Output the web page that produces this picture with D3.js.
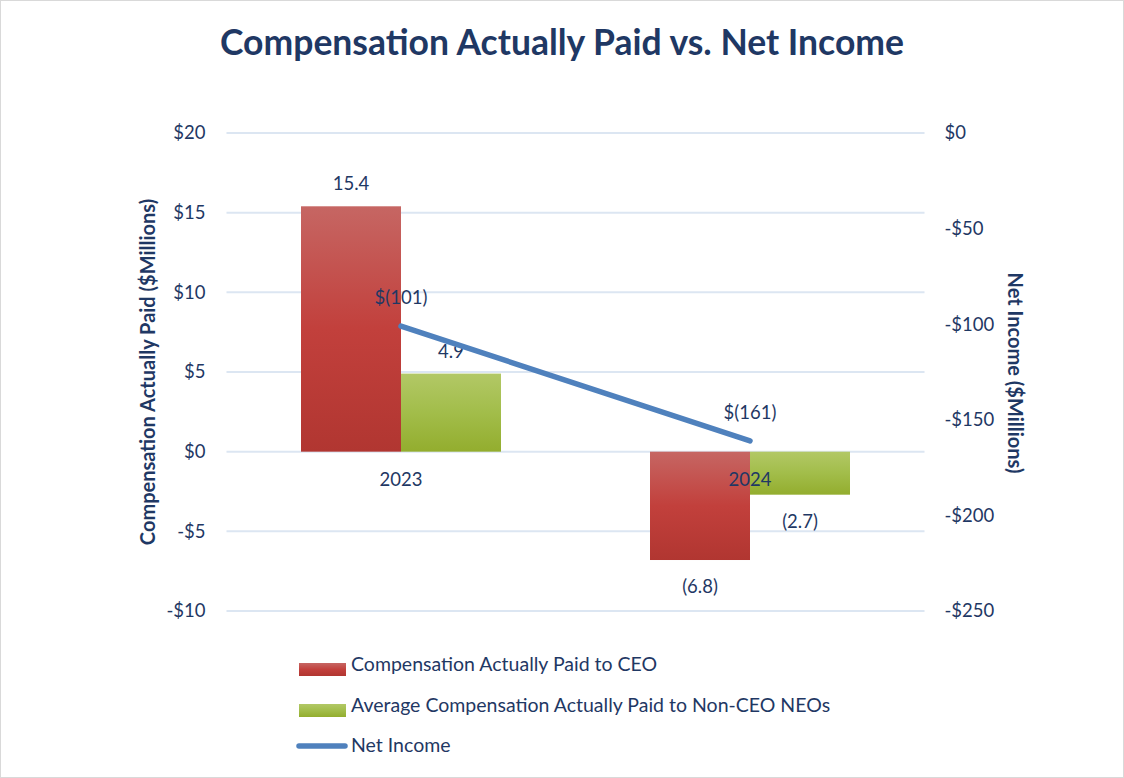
<!DOCTYPE html>
<html><head><meta charset="utf-8">
<script src="https://cdn.jsdelivr.net/npm/d3@7"></script>
<style>body{margin:0;background:#fff}svg{display:block}text{font-family:Lato,"Open Sans",sans-serif}</style>
</head><body>
<svg id="c" width="1124" height="778"></svg>
<script>
const categories = ["2023", "2024"];
const ceoValues = [15.4, -6.8];
const neoValues = [4.9, -2.7];
const netIncome = [-101, -161];
const ceoLabels = ["15.4", "(6.8)"];
const neoLabels = ["4.9", "(2.7)"];
const netLabels = ["$(101)", "$(161)"];
const leftTicks = [20, 15, 10, 5, 0, -5, -10];
const rightTicks = [0, -50, -100, -150, -200, -250];
const seriesNames = ["Compensation Actually Paid to CEO", "Average Compensation Actually Paid to Non-CEO NEOs", "Net Income"];

const TXT = "#1f3864";
const FS = 18.5;
const svg = d3.select("#c");
const W = 1124, H = 778;
svg.append("rect").attr("x",0.5).attr("y",0.5).attr("width",W-1).attr("height",H-1).attr("fill","#fff").attr("stroke","#d9d9d9");

const defs = svg.append("defs");
const gR = defs.append("linearGradient").attr("id","gr").attr("x1",0).attr("x2",0).attr("y1",0).attr("y2",1);
gR.append("stop").attr("offset","0%").attr("stop-color","#c66663");
gR.append("stop").attr("offset","50%").attr("stop-color","#c2403c");
gR.append("stop").attr("offset","100%").attr("stop-color","#b13631");
const gG = defs.append("linearGradient").attr("id","gg").attr("x1",0).attr("x2",0).attr("y1",0).attr("y2",1);
gG.append("stop").attr("offset","0%").attr("stop-color","#b2c866");
gG.append("stop").attr("offset","50%").attr("stop-color","#a2bd4a");
gG.append("stop").attr("offset","100%").attr("stop-color","#93ad2e");

const x0 = 226.5, x1 = 924.5;
const x = d3.scaleBand().domain(categories).range([x0, x1]);
const yL = d3.scaleLinear().domain([-10, 20]).range([611, 133]);
const yR = d3.scaleLinear().domain([-250, 0]).range([611, 133]);
const bw = 100;

// title
svg.append("text").attr("x",562).attr("y",55).attr("text-anchor","middle")
  .attr("font-size",35.5).attr("font-weight","bold").attr("fill",TXT)
  .text("Compensation Actually Paid vs. Net Income");

// gridlines
svg.append("g").selectAll("line").data(leftTicks).join("line")
  .attr("x1",x0).attr("x2",x1).attr("y1",d=>yL(d)).attr("y2",d=>yL(d))
  .attr("stroke","#dce6f2").attr("stroke-width",2);

// left axis
const la = svg.append("g").attr("transform",`translate(${x0},0)`)
  .call(d3.axisLeft(yL).tickValues(leftTicks).tickSize(0).tickPadding(21)
    .tickFormat(d => (d<0?"-$":"$")+Math.abs(d)));
la.select(".domain").remove();
la.selectAll("text").attr("font-size",FS).attr("fill",TXT).style("font-family","Lato,'Open Sans',sans-serif");

// right axis
const ra = svg.append("g").attr("transform",`translate(${x1},0)`)
  .call(d3.axisRight(yR).tickValues(rightTicks).tickSize(0).tickPadding(20)
    .tickFormat(d => (d<0?"-$":"$")+Math.abs(d)));
ra.select(".domain").remove();
ra.selectAll("text").attr("font-size",FS).attr("fill",TXT).style("font-family","Lato,'Open Sans',sans-serif");

// axis titles
svg.append("text").attr("transform","translate(155,372) rotate(-90)").attr("text-anchor","middle")
  .attr("font-size",20).attr("font-weight","bold").attr("fill",TXT).text("Compensation Actually Paid ($Millions)");
svg.append("text").attr("transform","translate(1008,373) rotate(90)").attr("text-anchor","middle")
  .attr("font-size",20).attr("font-weight","bold").attr("fill",TXT).text("Net Income ($Millions)");

const cx = c => x(c) + x.bandwidth()/2;
// bars
const bars = svg.append("g");
bars.selectAll("rect.ceo").data(categories).join("rect").attr("class","ceo")
  .attr("x",c=>cx(c)-bw).attr("width",bw)
  .attr("y",(c,i)=>yL(Math.max(0,ceoValues[i]))).attr("height",(c,i)=>Math.abs(yL(ceoValues[i])-yL(0)))
  .attr("fill","url(#gr)");
bars.selectAll("rect.neo").data(categories).join("rect").attr("class","neo")
  .attr("x",c=>cx(c)).attr("width",bw)
  .attr("y",(c,i)=>yL(Math.max(0,neoValues[i]))).attr("height",(c,i)=>Math.abs(yL(neoValues[i])-yL(0)))
  .attr("fill","url(#gg)");

// category labels
svg.append("g").selectAll("text").data(categories).join("text")
  .attr("x",cx).attr("y",yL(0)+34).attr("text-anchor","middle")
  .attr("font-size",FS).attr("fill",TXT).text(d=>d);

// bar labels
function barLabel(vals, labels, off){
  svg.append("g").selectAll("text").data(categories).join("text")
    .attr("x",c=>cx(c)+off).attr("y",(c,i)=> vals[i]>=0 ? yL(vals[i])-16 : yL(vals[i])+33)
    .attr("text-anchor","middle").attr("font-size",FS).attr("fill",TXT)
    .text((c,i)=>labels[i]);
}
barLabel(ceoValues, ceoLabels, -bw/2);
barLabel(neoValues, neoLabels, bw/2);

// line
const line = d3.line().x((d,i)=>cx(categories[i])).y(d=>yR(d));
svg.append("path").datum(netIncome).attr("d",line).attr("fill","none")
  .attr("stroke","#4f81bd").attr("stroke-width",5.5).attr("stroke-linecap","round");
svg.append("g").selectAll("text").data(categories).join("text")
  .attr("x",cx).attr("y",(c,i)=>yR(netIncome[i])-22).attr("text-anchor","middle")
  .attr("font-size",FS).attr("fill",TXT).text((c,i)=>netLabels[i]);

// legend
const lg = svg.append("g");
const ly = [670, 711, 751];
lg.append("rect").attr("x",299).attr("y",ly[0]-7).attr("width",47).attr("height",13).attr("fill","url(#gr)");
lg.append("rect").attr("x",299).attr("y",ly[1]-7).attr("width",47).attr("height",13).attr("fill","url(#gg)");
lg.append("line").attr("x1",299).attr("x2",345).attr("y1",ly[2]-5).attr("y2",ly[2]-5)
  .attr("stroke","#4f81bd").attr("stroke-width",5.5).attr("stroke-linecap","round");
lg.selectAll("text").data(seriesNames).join("text")
  .attr("x",351).attr("y",(d,i)=>ly[i]+1).attr("font-size",19.5).attr("fill",TXT).text(d=>d);
</script>
</body></html>
